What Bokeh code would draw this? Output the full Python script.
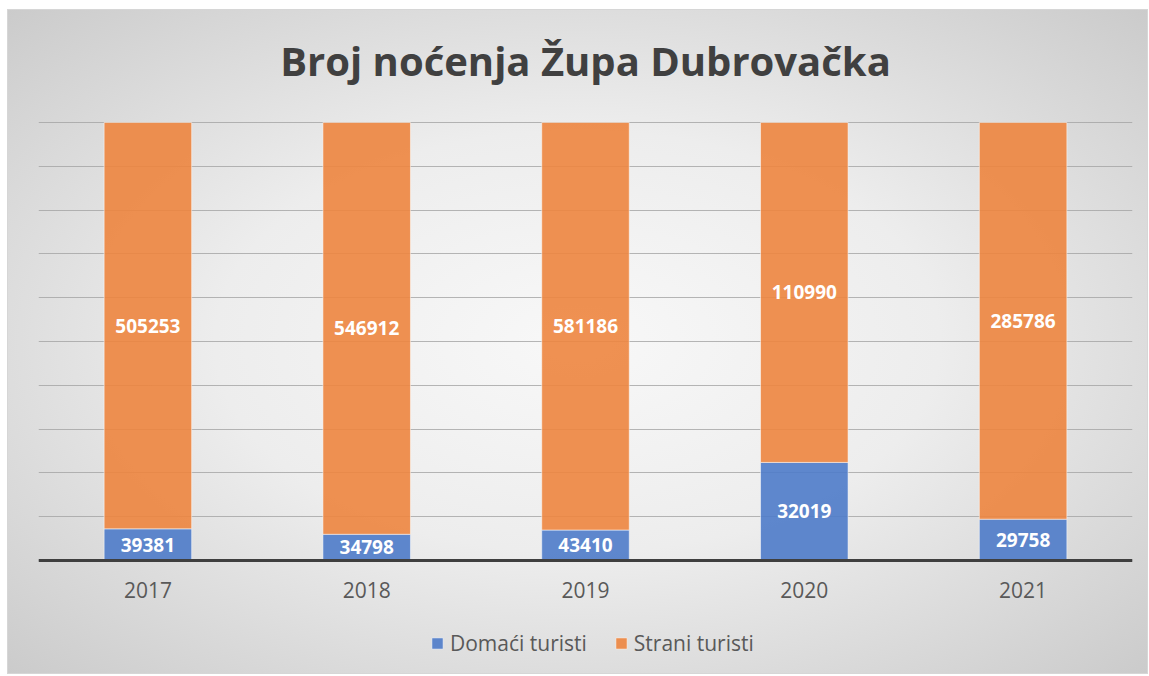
from bokeh.plotting import figure
from bokeh.models import ColumnDataSource, LabelSet, Label, Legend, LegendItem, Range1d, FixedTicker
from bokeh.core.properties import value
from bokeh.embed import file_html
from bokeh.resources import INLINE

years = ["2017", "2018", "2019", "2020", "2021"]
domaci = [39381, 34798, 43410, 32019, 29758]
strani = [505253, 546912, 581186, 110990, 285786]
title_text = "Broj noćenja Župa Dubrovačka"
series_names = ["Domaći turisti", "Strani turisti"]

tot = [d + s for d, s in zip(domaci, strani)]
dom_p = [d / t for d, t in zip(domaci, tot)]
str_p = [s / t for s, t in zip(strani, tot)]

src = ColumnDataSource(dict(years=years, dom=dom_p, str=str_p))

FONT = "Open Sans"
p = figure(x_range=years, y_range=Range1d(-0.2466, 1.2511), width=1139, height=663,
           output_backend="svg", toolbar_location=None,
           min_border_left=30, min_border_right=15, min_border_top=2, min_border_bottom=5)
p.margin = (10, 0, 0, 8)
p.background_fill_alpha = 0
p.border_fill_alpha = 0
p.outline_line_color = None
p.styles = {"background": "radial-gradient(ellipse at center, #f8f8f8 0%, #ededed 45%, #cbcbcb 100%)",
            "box-shadow": "0 0 0 1px #d6d6d6"}

rs = p.vbar_stack(["dom", "str"], x="years", width=0.4, source=src,
                  fill_color=["#4e7bc9", "#ed853f"], fill_alpha=0.9,
                  line_color="#ffffff", line_alpha=0.5, line_width=1)

# data labels
lab_dom = ColumnDataSource(dict(x=years, y=[v / 2 for v in dom_p], t=[str(v) for v in domaci]))
lab_str = ColumnDataSource(dict(x=years, y=[d + s / 2 for d, s in zip(dom_p, str_p)], t=[str(v) for v in strani]))
for s in (lab_dom, lab_str):
    p.add_layout(LabelSet(x="x", y="y", text="t", source=s, text_align="center", text_baseline="middle",
                          text_color="white", text_font=value(FONT), text_font_style="bold",
                          text_font_size="19px"))

p.yaxis.visible = False
p.yaxis.ticker = FixedTicker(ticks=[i / 10 for i in range(11)])
p.ygrid.ticker = FixedTicker(ticks=[i / 10 for i in range(11)])
p.ygrid.grid_line_color = "#a4a4a4"
p.ygrid.grid_line_alpha = 0.8
p.xgrid.visible = False

p.xaxis.fixed_location = 0
p.xaxis.axis_line_width = 3
p.xaxis.axis_line_color = "#3f3f3f"
p.xaxis.major_tick_line_color = None
p.xaxis.minor_tick_line_color = None
p.xaxis.major_label_standoff = 16
p.xaxis.major_label_text_font = FONT
p.xaxis.major_label_text_font_size = "21px"
p.xaxis.major_label_text_color = "#595959"
p.x_range.range_padding = 0

# chart title, centred over the categories
p.add_layout(Label(x=len(years) / 2, y=1.1416, text=title_text, text_align="center",
                   text_baseline="middle", text_font=FONT, text_font_style="bold",
                   text_font_size="40px", text_color="#404040"))

legend = Legend(items=[LegendItem(label=series_names[0], renderers=[rs[0]]),
                       LegendItem(label=series_names[1], renderers=[rs[1]])],
                orientation="horizontal", location=(392, 11),
                label_text_font=FONT, label_text_font_size="21px", label_text_color="#595959",
                glyph_width=14, glyph_height=14, spacing=27, label_standoff=6,
                background_fill_alpha=0, border_line_color=None, margin=0, padding=0)
p.add_layout(legend, "center")

open("out.html", "w").write(file_html(p, INLINE))
